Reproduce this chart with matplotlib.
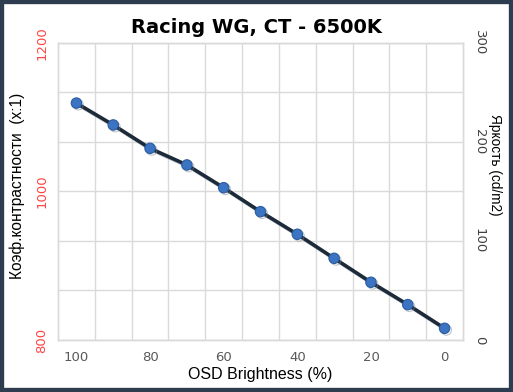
import matplotlib
matplotlib.use("Agg")
import matplotlib.pyplot as plt
import matplotlib.patheffects as pe
from matplotlib.patches import Rectangle

# OSD brightness settings and measured luminance
osd = [100, 90, 80, 70, 60, 50, 40, 30, 20, 10, 0]
brightness = [239.3, 217.2, 193.6, 176.8, 153.8, 129.6, 106.8, 82.5, 58.3, 35.7, 11.8]

left_ticks = [800, 1000, 1200]
right_ticks = [0, 100, 200, 300]
x_labels = [100, 80, 60, 40, 20, 0]

label_font = ["Liberation Sans", "DejaVu Sans"]

fig = plt.figure(figsize=(5.13, 3.92), dpi=100)
ax = fig.add_axes([0.1131, 0.1327, 0.7894, 0.7576])
ax2 = ax.twinx()

# left axis: contrast (no data shown)
ax.set_ylim(800, 1200)
ax.set_yticks(left_ticks)
ax.set_yticklabels([str(v) for v in left_ticks], rotation=90, va="center",
                   color="#ff4545", fontsize=9.5)
ax.set_xlim(105, -5)
ax.set_xticks(x_labels)
ax.set_xticklabels([str(v) for v in x_labels], color="#595959", fontsize=9.5)
ax.set_xticks([95, 85, 75, 65, 55, 45, 35, 25, 15, 5], minor=True)
ax.tick_params(axis="both", which="both", length=0)
ax.tick_params(axis="y", pad=7)
ax.tick_params(axis="x", pad=8)
ax.grid(True, axis="x", which="minor", color="#dadada", lw=1.0)
ax.set_ylabel("Коэф.контрастности  (x:1)", fontsize=11.2, family=label_font,
              ha="center", va="center")
ax.yaxis.set_label_coords(-0.101, 0.52)
ax.set_xlabel("OSD Brightness (%)", fontsize=11.5, family=label_font, labelpad=2)

# right axis: brightness
ax2.set_ylim(0, 300)
ax2.set_yticks(right_ticks)
ax2.set_yticklabels([str(v) for v in right_ticks], rotation=-90, va="center",
                    color="#404040", fontsize=9.5)
ax2.set_yticks([50, 150, 250], minor=True)
ax2.tick_params(axis="y", which="both", length=0, pad=7)
ax2.grid(True, axis="y", which="both", color="#dadada", lw=1.0)
ax2.set_ylabel("Яркость (cd/m2)", rotation=-90, fontsize=9.8, family=label_font,
               ha="center", va="center")
ax2.yaxis.set_label_coords(1.079, 0.59)

ax2.plot(osd, brightness, color="#1c2a39", lw=2.6, marker="o", markersize=7.5,
         markerfacecolor="#3b74c2", markeredgecolor="#2b5c9e", markeredgewidth=0.8,
         path_effects=[pe.SimpleLineShadow(offset=(1.2, -1.2), shadow_color="#7f8a96", alpha=0.5), pe.Normal()],
         zorder=5, clip_on=False)

for a in (ax, ax2):
    for s in a.spines.values():
        s.set_color("#dadada")
        s.set_linewidth(1.0)
ax.set_axisbelow(True)

fig.suptitle("Racing WG, CT - 6500K", fontsize=14, fontweight="bold", y=0.955)

fig.patches.append(Rectangle((0, 0), 1, 1, transform=fig.transFigure, fill=False,
                             edgecolor="#2d3d4f", lw=6, zorder=10))

fig.savefig("out.png", dpi=100)
